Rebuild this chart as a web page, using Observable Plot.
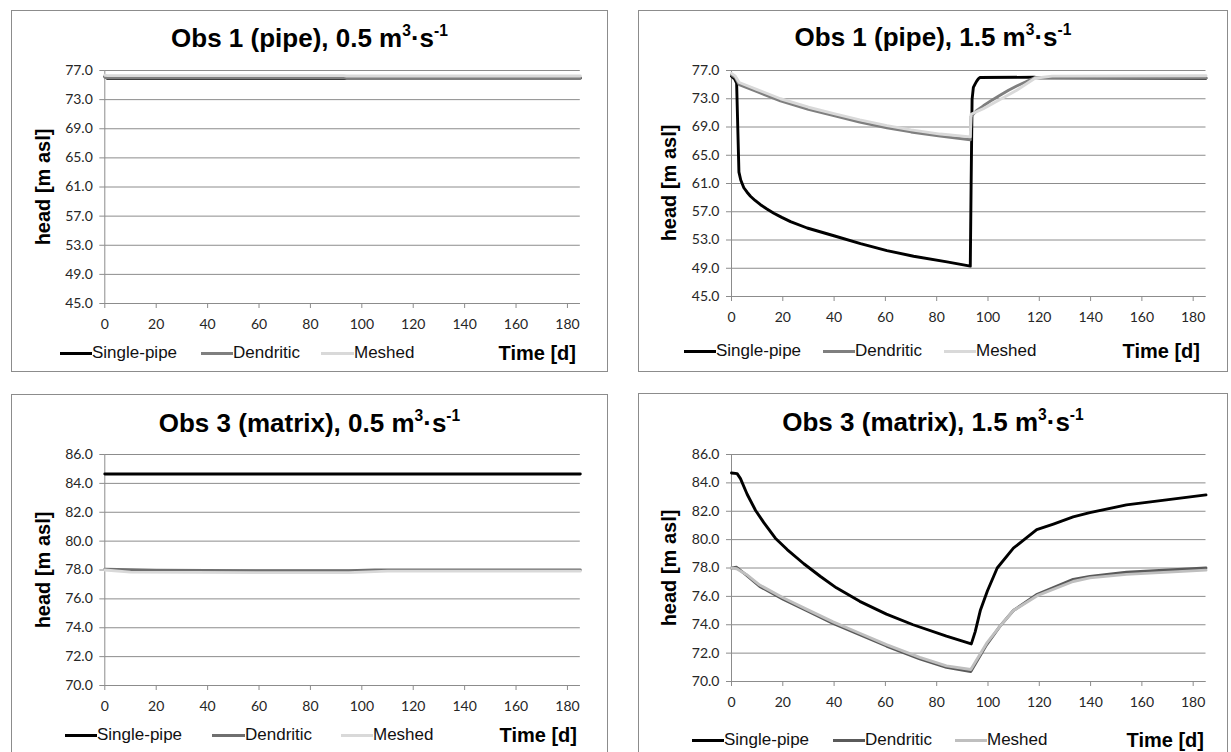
<!DOCTYPE html>
<html>
<head>
<meta charset="utf-8">
<script src="https://cdn.jsdelivr.net/npm/d3@7"></script>
<script src="https://cdn.jsdelivr.net/npm/@observablehq/plot@0.6"></script>
<style>
  html, body { margin: 0; padding: 0; background: #fff; }
  #root { position: relative; width: 1231px; height: 752px; overflow: hidden; background: #fff; }
  .panel { position: absolute; border: 1px solid #8c8c8c; box-sizing: border-box; background: #fff; }
  .title { position: absolute; text-align: center; font-family: "Liberation Sans", Arial, sans-serif; font-weight: bold; font-size: 26px; line-height: 30px; color: #000; white-space: nowrap; }
  .title sup { font-size: 0.6em; position: relative; top: -0.1em; vertical-align: super; line-height: 0; }
  .ylab { position: absolute; font-family: "Liberation Sans", Arial, sans-serif; font-weight: bold; font-size: 20px; line-height: 24px; color: #000; white-space: nowrap; transform: translate(-50%, -50%) rotate(-90deg); }
  .legtext { position: absolute; font-family: "Liberation Sans", Arial, sans-serif; font-size: 17px; line-height: 20px; color: #111; white-space: nowrap; }
  .legline { position: absolute; height: 3px; }
  .timelab { position: absolute; font-family: "Liberation Sans", Arial, sans-serif; font-weight: bold; font-size: 20px; line-height: 24px; color: #000; white-space: nowrap; transform: translateX(-100%); }
</style>
</head>
<body>
<div id="root"></div>
<script>
// ---------- shared categories / ticks ----------
const seriesNames = ["Single-pipe", "Dendritic", "Meshed"];
const xTicks = [0, 20, 40, 60, 80, 100, 120, 140, 160, 180];
const yTicksObs1 = [45, 49, 53, 57, 61, 65, 69, 73, 77];
const yTicksObs3 = [70, 72, 74, 76, 78, 80, 82, 84, 86];
const titlesHtml = [
  "Obs 1 (pipe), 0.5 m<sup>3</sup>·s<sup>-1</sup>",
  "Obs 1 (pipe), 1.5 m<sup>3</sup>·s<sup>-1</sup>",
  "Obs 3 (matrix), 0.5 m<sup>3</sup>·s<sup>-1</sup>",
  "Obs 3 (matrix), 1.5 m<sup>3</sup>·s<sup>-1</sup>"
];
const yLabel = "head [m asl]";
const xLabel = "Time [d]";

// ---------- Panel A: Obs 1 (pipe), 0.5 m3/s ----------
const a_single_t = [0, 1, 93, 94, 185];
const a_single_h = [76.2, 75.9, 75.9, 75.95, 75.95];
const a_dend_t = [0, 1, 93, 94, 185];
const a_dend_h = [76.1, 75.95, 75.95, 76.0, 76.0];
const a_mesh_t = [0, 1, 93, 94, 185];
const a_mesh_h = [76.35, 76.3, 76.3, 76.25, 76.25];

// ---------- Panel B: Obs 1 (pipe), 1.5 m3/s ----------
const b_single_t = [0, 1.2, 2.0, 2.9, 3.6, 4.8, 6.0, 7.4, 9.2, 11.3, 13.8, 16.5, 19.6, 23, 29.5, 39.9, 50.3, 60.6, 71, 84, 93.1, 93.4, 93.8, 94.3, 95.0, 95.6, 96.3, 96.9, 118, 120, 185];
const b_single_h = [76.2, 75.8, 75.2, 62.6, 61.5, 60.4, 59.8, 59.2, 58.6, 58.0, 57.4, 56.8, 56.2, 55.6, 54.7, 53.6, 52.5, 51.5, 50.7, 49.9, 49.3, 60.0, 72.9, 74.6, 75.1, 75.5, 75.85, 76.0, 76.05, 75.95, 75.9];
const b_dend_t = [0, 1.5, 3, 10, 19.1, 30, 39.9, 50, 60.6, 70, 81.4, 93.1, 93.4, 95.5, 98.2, 101.5, 104.7, 108, 111.2, 114.8, 118.3, 185];
const b_dend_h = [76.4, 76.0, 75.0, 74.0, 72.7, 71.5, 70.6, 69.7, 68.9, 68.3, 67.7, 67.2, 70.5, 71.3, 72.0, 72.8, 73.5, 74.2, 74.8, 75.4, 76.0, 75.95];
const b_mesh_t = [0, 1.5, 3, 10, 19.1, 30, 39.9, 50, 60.6, 70, 81.4, 93.1, 93.4, 98.2, 104.7, 111.2, 118.3, 125, 185];
const b_mesh_h = [76.6, 76.2, 75.3, 74.3, 73.0, 71.8, 70.9, 70.0, 69.2, 68.6, 68.0, 67.6, 70.8, 71.6, 72.9, 74.2, 75.9, 76.2, 76.25];

// ---------- Panel C: Obs 3 (matrix), 0.5 m3/s ----------
const c_single_t = [0, 185];
const c_single_h = [84.65, 84.65];
const c_dend_t = [0, 20, 60, 95, 105, 185];
const c_dend_h = [78.05, 77.98, 77.95, 77.95, 78.0, 78.0];
const c_mesh_t = [0, 10, 60, 95, 110, 185];
const c_mesh_h = [78.0, 77.85, 77.82, 77.82, 77.92, 77.92];

// ---------- Panel D: Obs 3 (matrix), 1.5 m3/s ----------
const d_single_t = [0, 2.2, 3.5, 6.1, 9.4, 12.6, 17.1, 21.7, 28.2, 34.7, 40.9, 50, 60.4, 70.8, 83.8, 93.5, 95.0, 97.0, 99.8, 103.6, 109.9, 119, 125.5, 133.2, 139.7, 154, 169.6, 185];
const d_single_h = [84.7, 84.65, 84.3, 83.2, 82.05, 81.2, 80.1, 79.3, 78.3, 77.4, 76.6, 75.65, 74.75, 74.0, 73.2, 72.65, 73.5, 75.0, 76.4, 78.0, 79.4, 80.7, 81.1, 81.6, 81.9, 82.45, 82.8, 83.15];
const d_dend_t = [0, 2, 5.8, 11, 20.1, 29.2, 39.6, 50, 60.4, 73.4, 83.8, 93.3, 99.5, 104.7, 109.9, 119.2, 133.2, 139.7, 154, 185];
const d_dend_h = [78.0, 78.05, 77.5, 76.7, 75.8, 75.0, 74.1, 73.3, 72.5, 71.6, 71.0, 70.7, 72.6, 73.9, 75.0, 76.15, 77.2, 77.4, 77.7, 78.0];
const d_mesh_t = [0, 2, 5.8, 11, 20.1, 29.2, 39.6, 50, 60.4, 73.4, 83.8, 93.3, 99.5, 104.7, 109.9, 119.2, 133.2, 139.7, 154, 185];
const d_mesh_h = [78.0, 77.95, 77.55, 76.8, 75.9, 75.1, 74.2, 73.4, 72.6, 71.7, 71.1, 70.85, 72.7, 73.9, 75.0, 76.05, 77.05, 77.3, 77.55, 77.85];

// ---------- layout (positions & styles only) ----------
const panels = [
  { box: [11, 10, 597, 362], svg: [11, 55, 597, 278], m: [15, 28.2, 30, 93.3], titleY: 38, ylab: [43, 187], legY: 353,
    leg: [[60, 92], [201, 233], [321, 354]], timeRight: 576, yTicks: yTicksObs1,
    colors: ["#000000", "#7f7f7f", "#d9d9d9"],
    data: [[a_single_t, a_single_h], [a_dend_t, a_dend_h], [a_mesh_t, a_mesh_h]] },
  { box: [638, 10, 590, 362], svg: [638, 55, 590, 271], m: [15, 22.5, 30, 93], titleY: 37, ylab: [669, 183], legY: 351,
    leg: [[684, 716], [823, 855], [944, 976]], timeRight: 1200, yTicks: yTicksObs1,
    colors: ["#000000", "#7f7f7f", "#d9d9d9"],
    data: [[b_single_t, b_single_h], [b_dend_t, b_dend_h], [b_mesh_t, b_mesh_h]] },
  { box: [11, 394, 597, 380], svg: [11, 439, 597, 276], m: [15, 28.2, 30, 93.3], titleY: 423, ylab: [43, 570], legY: 735,
    leg: [[65, 97], [212, 245], [341, 373]], timeRight: 577, yTicks: yTicksObs3,
    colors: ["#000000", "#6f6f6f", "#d9d9d9"],
    data: [[c_single_t, c_single_h], [c_dend_t, c_dend_h], [c_mesh_t, c_mesh_h]] },
  { box: [638, 393, 590, 380], svg: [638, 439, 590, 272], m: [15, 22.5, 30, 93], titleY: 422, ylab: [669, 568], legY: 740,
    leg: [[692, 724], [833, 865], [955, 987]], timeRight: 1204, yTicks: yTicksObs3,
    colors: ["#000000", "#5a5a5a", "#bfbfbf"],
    data: [[d_single_t, d_single_h], [d_dend_t, d_dend_h], [d_mesh_t, d_mesh_h]] }
];

const root = document.getElementById("root");
function el(tag, cls, style, html) {
  const e = document.createElement(tag);
  if (cls) e.className = cls;
  Object.assign(e.style, style || {});
  if (html != null) e.innerHTML = html;
  root.appendChild(e);
  return e;
}

panels.forEach((p, pi) => {
  const [bx, by, bw, bh] = p.box;
  el("div", "panel", { left: bx + "px", top: by + "px", width: bw + "px", height: bh + "px" });
  el("div", "title", { left: bx + "px", width: bw + "px", top: (p.titleY - 15) + "px" }, titlesHtml[pi]);
  el("div", "ylab", { left: p.ylab[0] + "px", top: p.ylab[1] + "px" }, yLabel);

  const [sx, sy, sw, sh] = p.svg;
  const [mt, mr, mb, ml] = p.m;
  const lo = p.yTicks[0], hi = p.yTicks[p.yTicks.length - 1];
  const lineMarks = p.data.map(([ts, hs], i) =>
    Plot.line(ts.map((t, j) => ({ t, h: hs[j] })), {
      x: "t", y: "h", stroke: p.colors[i], strokeWidth: 2.9, strokeLinejoin: "round", strokeLinecap: "round", curve: "linear"
    })
  );
  const svg = Plot.plot({
    width: sw, height: sh,
    marginTop: mt, marginRight: mr, marginBottom: mb, marginLeft: ml,
    x: { domain: [0, 185] },
    y: { domain: [lo, hi] },
    style: { fontFamily: "Lato, 'Open Sans', sans-serif", fontSize: "14px", color: "#262626", background: "transparent", overflow: "visible" },
    marks: [
      Plot.gridY(p.yTicks, { stroke: "#8c8c8c", strokeOpacity: 1, strokeWidth: 1 }),
      Plot.ruleX([0], { stroke: "#8c8c8c", strokeWidth: 1 }),
      Plot.ruleY([lo], { stroke: "#8c8c8c", strokeWidth: 1 }),
      Plot.axisY(p.yTicks, { tickFormat: d => d.toFixed(1), tickSize: 5, tickPadding: 7, stroke: "#8c8c8c", fill: "#262626", label: null }),
      Plot.axisX(xTicks, { tickSize: 5, tickPadding: 11, stroke: "#8c8c8c", fill: "#262626", label: null }),
      ...lineMarks
    ]
  });
  svg.style.position = "absolute";
  svg.style.left = sx + "px";
  svg.style.top = sy + "px";
  root.appendChild(svg);

  // legend
  p.leg.forEach(([x0, xt], i) => {
    el("div", "legline", { left: x0 + "px", width: (xt - x0) + "px", top: (p.legY - 1.5) + "px", background: p.colors[i] });
    el("div", "legtext", { left: xt + "px", top: (p.legY - 10) + "px" }, seriesNames[i]);
  });
  el("div", "timelab", { left: p.timeRight + "px", top: (p.legY - 12) + "px" }, xLabel);
});
</script>
</body>
</html>
